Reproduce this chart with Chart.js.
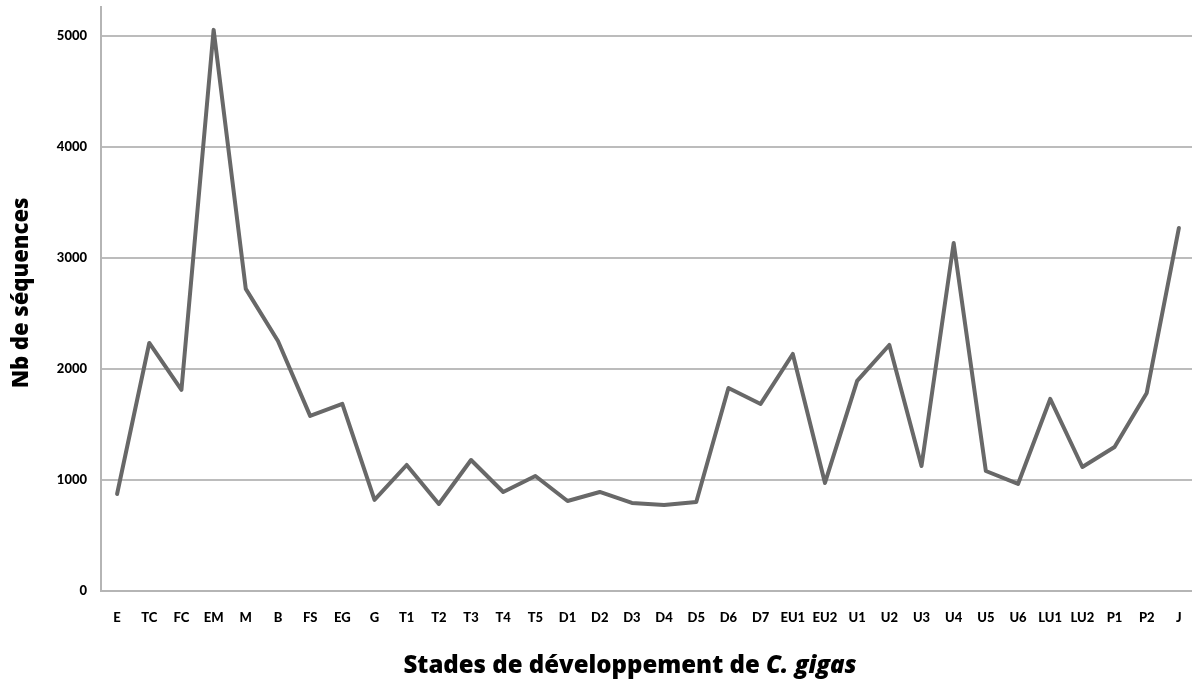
<!DOCTYPE html>
<html>
<head>
<meta charset="utf-8">
<script src="https://cdn.jsdelivr.net/npm/chart.js@4/dist/chart.umd.min.js"></script>
<style>
  html, body { margin: 0; padding: 0; background: #fff; overflow: hidden; }
  #wrap { width: 1192px; height: 683px; overflow: hidden; }
</style>
</head>
<body>
<div id="wrap"><canvas id="canvas" width="1195" height="683"></canvas></div>
<script>
var stades = ['E', 'TC', 'FC', 'EM', 'M', 'B', 'FS', 'EG', 'G', 'T1', 'T2', 'T3', 'T4', 'T5',
  'D1', 'D2', 'D3', 'D4', 'D5', 'D6', 'D7', 'EU1', 'EU2', 'U1', 'U2', 'U3', 'U4', 'U5', 'U6',
  'LU1', 'LU2', 'P1', 'P2', 'J'];
var nbSequences = [874, 2234, 1811, 5054, 2721, 2252, 1577, 1685, 820, 1135, 784, 1180, 892, 1036,
  811, 892, 793, 775, 802, 1829, 1685, 2135, 973, 1892, 2216, 1126, 3135, 1081, 964,
  1730, 1117, 1297, 1784, 3270];
var yTicks = [0, 1000, 2000, 3000, 4000, 5000];

var FONT = 'Lato, "Open Sans", sans-serif';
var TITLE_FONT = '"Open Sans", Lato, sans-serif';

// axis titles drawn by hand: the x title has the species name in italics
var titlesPlugin = {
  id: 'axisTitles',
  afterDraw: function(chart) {
    var ctx = chart.ctx;
    var part1 = 'Stades de développement de ';
    var part2 = 'C. gigas';
    ctx.save();
    ctx.fillStyle = '#000';
    ctx.textBaseline = 'middle';
    ctx.font = '800 24px ' + TITLE_FONT;
    var w1 = ctx.measureText(part1).width;
    ctx.font = 'italic 800 24px ' + TITLE_FONT;
    var w2 = ctx.measureText(part2).width;
    var x = 630 - (w1 + w2) / 2;
    ctx.textAlign = 'left';
    ctx.font = '800 24px ' + TITLE_FONT;
    ctx.fillText(part1, x, 666);
    ctx.font = 'italic 800 24px ' + TITLE_FONT;
    ctx.fillText(part2, x + w1, 666);

    ctx.translate(22, 293);
    ctx.rotate(-Math.PI / 2);
    ctx.textAlign = 'center';
    ctx.font = '800 22px ' + TITLE_FONT;
    ctx.fillText('Nb de séquences', 0, 0);
    ctx.restore();
  }
};

function init() {
  var ctx = document.getElementById('canvas').getContext('2d');
  window.myLine = new Chart(ctx, {
    type: 'line',
    data: {
      labels: stades,
      datasets: [{
        label: 'Nb de séquences',
        data: nbSequences,
        borderColor: '#686868',
        backgroundColor: '#686868',
        borderWidth: 4,
        borderJoinStyle: 'round',
        borderCapStyle: 'round',
        pointRadius: 0,
        tension: 0,
        fill: false
      }]
    },
    options: {
      responsive: false,
      animation: false,
      layout: { padding: { top: 7, right: 0, left: 0, bottom: 0 } },
      plugins: {
        legend: { display: false },
        tooltip: { enabled: false }
      },
      scales: {
        x: {
          offset: true,
          grid: { display: false, drawTicks: false },
          border: { color: '#b5b5b5', width: 2 },
          ticks: {
            color: '#000',
            autoSkip: false,
            maxRotation: 0,
            padding: 19,
            font: { family: FONT, size: 13, weight: '900' }
          },
          afterFit: function(scale) {
            scale.height = 92;
            scale.paddingLeft = 0;
            scale.paddingRight = 0;
          }
        },
        y: {
          min: 0,
          max: 5260,
          afterBuildTicks: function(scale) {
            scale.ticks = yTicks.map(function(v) { return { value: v }; });
          },
          grid: { color: '#bcbcbc', lineWidth: 2, drawTicks: false },
          border: { color: '#b5b5b5', width: 2 },
          ticks: {
            color: '#000',
            padding: 14,
            font: { family: FONT, size: 13, weight: '900' },
            callback: function(v) { return String(v); }
          },
          afterFit: function(scale) {
            scale.width = 101;
            scale.paddingTop = 0;
            scale.paddingBottom = 0;
          }
        }
      }
    },
    plugins: [titlesPlugin]
  });
}

window.onload = init;
</script>
</body>
</html>
